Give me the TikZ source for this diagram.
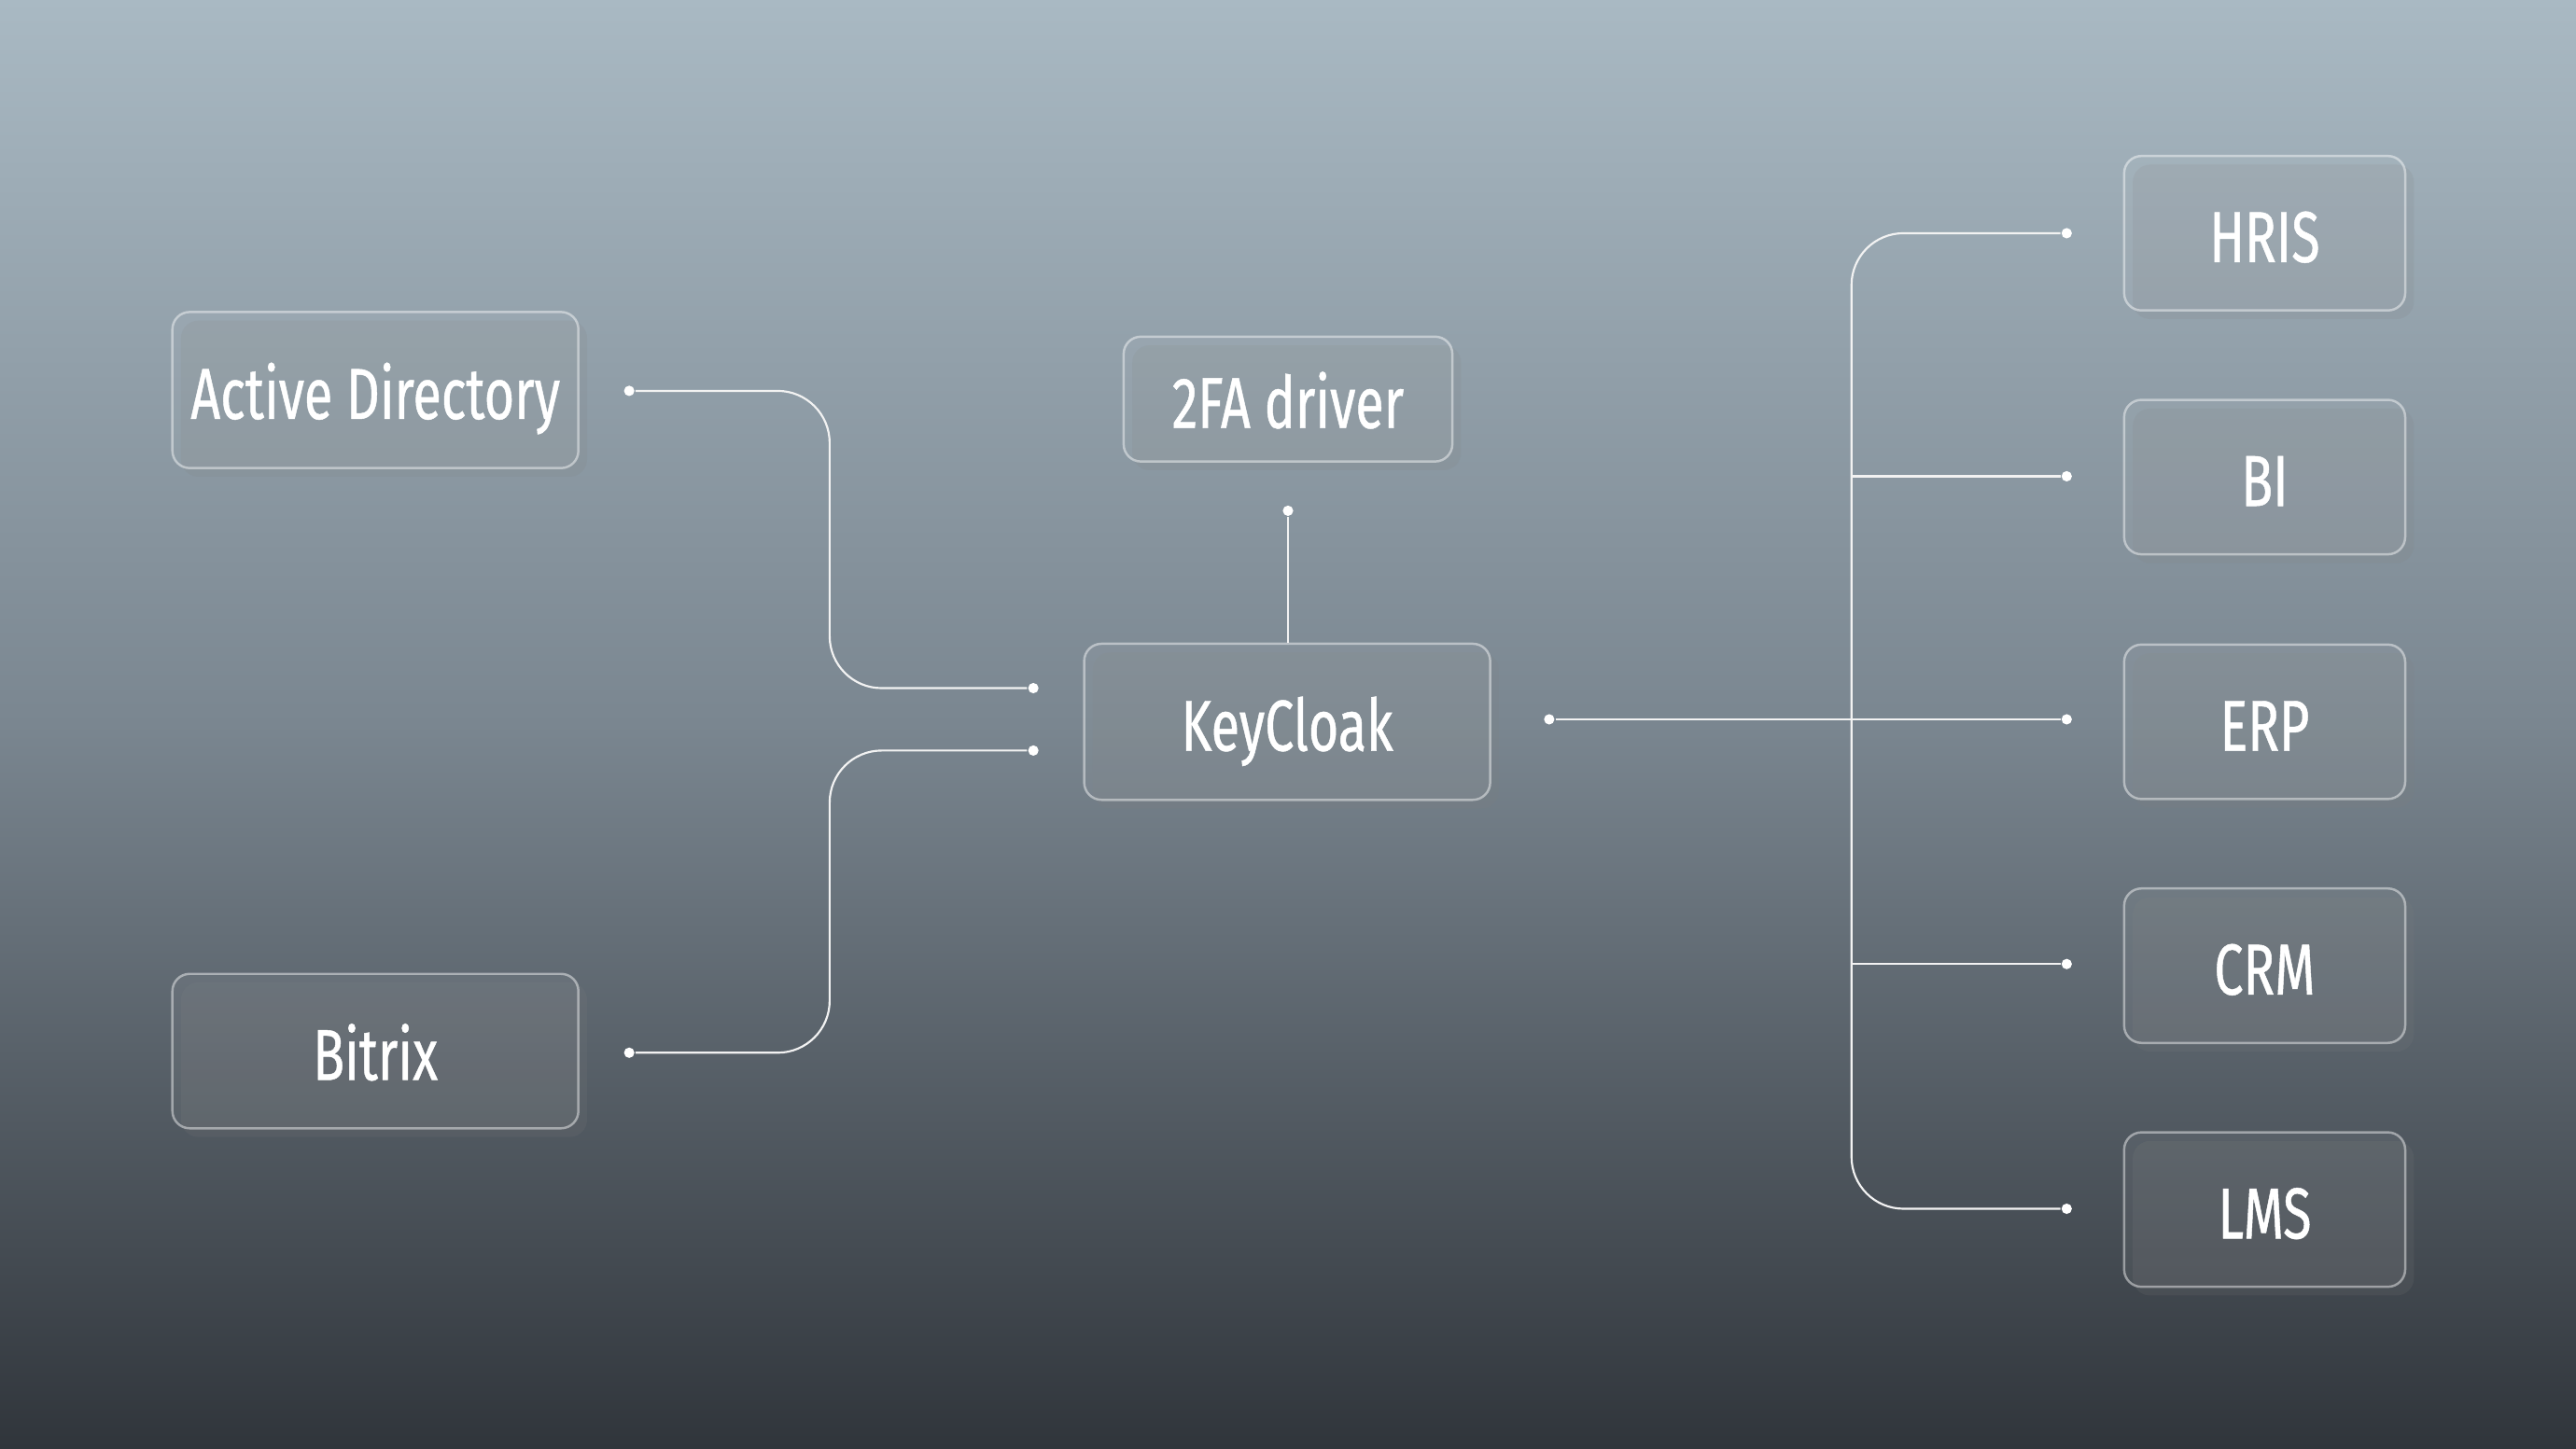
\documentclass[tikz,border=0pt]{standalone}
\usepackage{fontspec}
\setmainfont{Fira Sans}[FakeStretch=0.72,FakeBold=0.6]
\usetikzlibrary{shadows,calc}
\definecolor{bgtop}{HTML}{A9B9C3}
\definecolor{bgmid}{HTML}{7A8690}
\definecolor{bgbot}{HTML}{30353B}
\begin{document}
\begin{tikzpicture}[x=0.01cm,y=-0.01cm,
  box/.style={draw=white,draw opacity=0.45,line width=0.4pt,fill=white,fill opacity=0.05,text opacity=1,
    rounded corners=3pt,text=white,font=\fontsize{12.5}{15}\selectfont,inner sep=0pt,
    text height=10pt,text depth=0pt,
    drop shadow={shadow xshift=1.5pt,shadow yshift=-1.5pt,opacity=0.15}},
  wire/.style={draw=white!90!gray,line width=0.35pt,rounded corners=9pt},
  dot/.style={circle,fill=white,inner sep=0pt,minimum size=1.8pt}]
\shade[top color=bgtop,bottom color=bgbot,middle color=bgmid] (0,0) rectangle (1568,882);
\useasboundingbox (0,0) rectangle (1568,882);
% boxes
\node[box,minimum width=2.47cm,minimum height=0.95cm] (ad) at (228.5,237.5) {Active Directory};
\node[box,minimum width=2.47cm,minimum height=0.94cm] (bx) at (228.5,640) {Bitrix};
\node[box,minimum width=2.00cm,minimum height=0.76cm] (fa) at (784,243) {2FA driver};
\node[box,minimum width=2.47cm,minimum height=0.95cm] (kc) at (783.5,439.5) {KeyCloak};
\foreach \n/\t/\y in {hr/HRIS/142,bi/BI/290.5,erp/ERP/439.5,crm/CRM/588,lms/LMS/736.5}
  \node[box,minimum width=1.71cm,minimum height=0.94cm] (\n) at (1378.5,\y) {\t};
% dots/coordinates
\node[dot] (adp) at (383,238) {};
\node[dot] (bxp) at (383,641) {};
\node[dot] (kin1) at (629,419) {};
\node[dot] (kin2) at (629,457) {};
\node[dot] (fap) at (784,311) {};
\node[dot] (kout) at (943,438) {};
\foreach \n/\y in {hr/142,bi/290,erp/438,crm/587,lms/736}
  \node[dot] (\n p) at (1258,\y) {};
\coordinate (spine) at (1127,438);
% wires
\draw[wire] (adp) -| (505,330) |- (kin1);
\draw[wire] (bxp) -| (505,550) |- (kin2);
\draw[wire] (fap) -- (fap |- kc.north);
\draw[wire] (kout) -- (erpp);
\draw[wire] (hrp) -| (spine) |- (lmsp);
\draw[wire] (1127,290) -- (bip);
\draw[wire] (1127,587) -- (crmp);
\end{tikzpicture}
\end{document}
